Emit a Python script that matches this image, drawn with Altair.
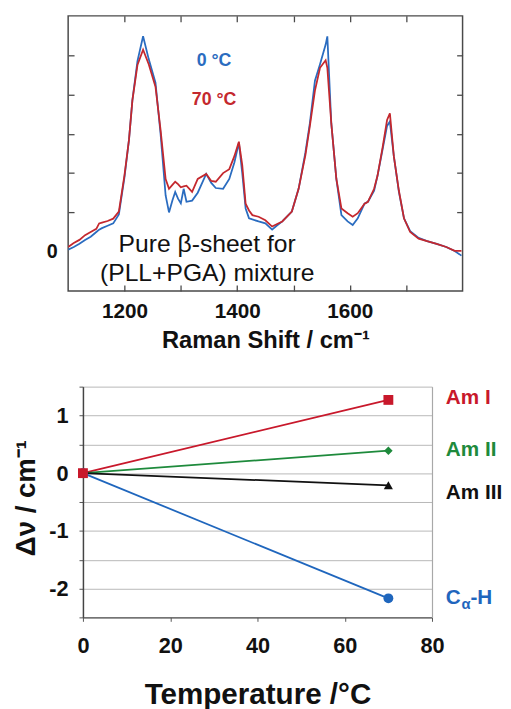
import altair as alt
import pandas as pd

# ---------------- data ----------------
shift = [1100, 1110, 1120, 1130, 1140, 1150, 1155, 1160, 1170, 1180,
         1190, 1200, 1208, 1214, 1223, 1233, 1243, 1255, 1264, 1273,
         1279, 1285, 1290, 1295, 1300, 1305, 1310, 1320, 1330, 1345,
         1354, 1362, 1375, 1386, 1395, 1403, 1409, 1415, 1421, 1427,
         1438, 1450, 1462, 1470, 1480, 1497, 1509, 1521, 1529, 1538,
         1547, 1557, 1560, 1567, 1576, 1585, 1596, 1605, 1614, 1626,
         1632, 1643, 1649, 1658, 1666, 1671, 1678, 1687, 1696, 1707,
         1722, 1737, 1754, 1771, 1786, 1798]
int_0C = [0.05, 0.12, 0.2, 0.3, 0.38, 0.5, 0.56, 0.6, 0.66, 0.72,
          0.95, 1.9, 2.85, 3.85, 4.85, 5.48, 4.9, 4.3, 3.0, 1.43,
          1.0, 1.3, 1.52, 1.35, 1.23, 1.6, 1.27, 1.3, 1.5, 1.98,
          1.75, 1.62, 1.6, 1.85, 2.27, 2.77, 2.0, 1.1, 0.85, 0.82,
          0.77, 0.72, 0.56, 0.66, 0.77, 1.02, 1.6, 2.52, 3.27, 4.35,
          4.77, 5.27, 5.48, 3.27, 1.85, 0.93, 0.77, 0.68, 0.85, 1.22,
          1.27, 1.55, 1.93, 2.6, 3.2, 3.31, 2.43, 1.52, 0.85, 0.52,
          0.35, 0.27, 0.2, 0.12, 0.02, -0.1]
int_70C = [0.12, 0.22, 0.3, 0.42, 0.5, 0.58, 0.72, 0.74, 0.78, 0.84,
           1.02, 1.95, 2.85, 3.85, 4.75, 5.14, 4.77, 4.2, 3.1, 1.85,
           1.6, 1.7, 1.78, 1.72, 1.64, 1.66, 1.68, 1.52, 1.85, 1.98,
           1.8, 1.78, 2.0, 2.1, 2.43, 2.8, 2.2, 1.22, 1.05, 0.93,
           0.89, 0.8, 0.64, 0.7, 0.77, 1.02, 1.6, 2.45, 3.2, 4.1,
           4.68, 4.87, 4.68, 3.27, 1.85, 1.1, 0.98, 0.89, 0.98, 1.22,
           1.27, 1.6, 1.93, 2.65, 3.35, 3.52, 2.43, 1.55, 0.85, 0.5,
           0.33, 0.27, 0.2, 0.12, 0.02, 0.02]
spec_labels = ["0 °C", "70 °C"]
note_lines = ["Pure β-sheet for", "(PLL+PGA) mixture"]

x_label_ticks = [1200, 1400, 1600]
x_minor_ticks = [1200, 1300, 1400, 1500, 1600, 1700]
y_top_labels = [0]
y_top_ticks = [1, 2, 3, 4, 5]

temps = [0, 70]
bands = ["Am I", "Am II", "Am III", "Cα-H"]
shift_70 = [1.27, 0.39, -0.21, -2.17]
shift_0 = [0.0, 0.0, 0.0, 0.0]
temp_ticks = [0, 20, 40, 60, 80]
dnu_labels = [-2, -1, 0, 1]
dnu_grid = [-2.5, -2, -1.5, -1, -0.5, 0, 0.5, 1, 1.5]
y_title_bottom = "Δν / cm⁻¹"

# ---------------- style ----------------
FONT = "Liberation Sans"
BLUE = "#2a6cc0"
RED = "#c4282e"
band_colors = ["#c8182b", "#1e8a3c", "#111111", "#1f66bd"]
band_shapes = ["square", "diamond", "triangle-up", "circle"]
band_sizes = [100, 75, 85, 100]
label_dy = [-2, -1, 8, 0]
FRAME = "#4a4a4a"
INSET = 15          # bottom plot starts 15 px right of the top plot
BW = 354            # bottom plot width

# ---------------- top panel ----------------
xs = alt.Scale(domain=[1100, 1800], nice=False, zero=False)
ys = alt.Scale(domain=[-1, 6], nice=False, zero=False)

df0 = pd.DataFrame({"shift": shift, "I": int_0C})
df70 = pd.DataFrame({"shift": shift, "I": int_70C})

tick_only = dict(labels=False, domain=False, ticks=True, tickSize=6,
                 tickColor=FRAME, tickWidth=1.3, grid=False, title=None,
                 offset=-6)

line0 = alt.Chart(df0).mark_line(color=BLUE, strokeWidth=1.8, clip=True).encode(
    x=alt.X("shift:Q", scale=xs, axis=alt.Axis(
        orient="bottom", values=x_label_ticks, format="d", ticks=False, domain=False,
        grid=False, labelFont=FONT, labelFontWeight="bold", labelFontSize=21,
        labelColor="#111", labelPadding=10, labelFlush=False,
        title="Raman Shift / cm⁻¹", titleFont=FONT, titleFontSize=24,
        titleFontWeight="bold", titleColor="#111", titlePadding=7)),
    y=alt.Y("I:Q", scale=ys, axis=alt.Axis(
        orient="left", values=y_top_labels, format="d", ticks=False, domain=False,
        grid=False, labelFont=FONT, labelFontWeight="bold", labelFontSize=20,
        labelColor="#111", labelPadding=11, title=None)),
)
ghost = alt.Chart(df0).mark_line(opacity=0).encode(
    x=alt.X("shift:Q", scale=xs, axis=alt.Axis(orient="bottom", values=x_minor_ticks, **tick_only)),
    y=alt.Y("I:Q", scale=ys, axis=alt.Axis(orient="left", values=y_top_ticks, **tick_only)),
)
line70 = alt.Chart(df70).mark_line(color=RED, strokeWidth=1.8, clip=True).encode(
    x=alt.X("shift:Q", scale=xs, axis=alt.Axis(orient="top", values=x_minor_ticks, **tick_only)),
    y=alt.Y("I:Q", scale=ys, axis=alt.Axis(orient="right", values=y_top_ticks, **tick_only)),
)

lab_df = pd.DataFrame({"t": spec_labels})
lab0 = alt.Chart(lab_df).transform_filter(alt.datum.t == spec_labels[0]).mark_text(
    font=FONT, fontSize=18, fontWeight="bold", color=BLUE, align="center", baseline="middle"
).encode(text="t:N", x=alt.value(148), y=alt.value(46))
lab70 = alt.Chart(lab_df).transform_filter(alt.datum.t == spec_labels[1]).mark_text(
    font=FONT, fontSize=18, fontWeight="bold", color=RED, align="center", baseline="middle"
).encode(text="t:N", x=alt.value(148), y=alt.value(85))
note = alt.Chart(lab_df).transform_filter(alt.datum.t == spec_labels[0]).mark_text(
    text=note_lines, lineHeight=30, font=FONT, fontSize=25, color="#111",
    align="center", baseline="alphabetic"
).encode(x=alt.value(141), y=alt.value(239))

top = alt.layer(line0, ghost, line70, lab0, lab70, note).resolve_axis(
    x="independent", y="independent"
).properties(width=400, height=279,
             view=alt.ViewBackground(stroke=FRAME, strokeWidth=1.5))

# ---------------- bottom panel ----------------
rows = []
for b, v0, v70 in zip(bands, shift_0, shift_70):
    rows.append({"band": b, "T": temps[0], "dnu": v0})
    rows.append({"band": b, "T": temps[1], "dnu": v70})
dfb = pd.DataFrame(rows)

tx = alt.Scale(domain=[0, 80], nice=False, zero=False, range=[INSET, INSET + BW])
ty = alt.Scale(domain=[-2.5, 1.5], nice=False, zero=False)
cscale = alt.Scale(domain=bands, range=band_colors)

grid_layer = alt.Chart(dfb).mark_line(opacity=0).encode(
    x=alt.X("T:Q", scale=tx, axis=alt.Axis(
        orient="bottom", values=temp_ticks, tickSize=4, tickColor="#555",
        domainColor="#555", domainWidth=1.5, grid=False, labels=False, title=None)),
    y=alt.Y("dnu:Q", scale=ty, axis=alt.Axis(
        orient="left", offset=-INSET, values=dnu_grid, tickSize=4, tickColor="#555",
        domainColor="#444", domainWidth=1.5, grid=True, gridColor="#b8b8b8",
        gridWidth=1, labels=False, title=None)),
    detail="band:N",
)
frame_right = alt.Chart(dfb).mark_line(opacity=0).encode(
    x=alt.X("T:Q", scale=tx, axis=None),
    y=alt.Y("dnu:Q", scale=ty, axis=alt.Axis(
        orient="right", values=dnu_grid, ticks=False, labels=False, grid=False,
        domainColor="#a8a8a8", domainWidth=1.2, title=None)),
    detail="band:N",
)

lines = alt.Chart(dfb).mark_line(strokeWidth=1.8).encode(
    x=alt.X("T:Q", scale=tx, axis=alt.Axis(
        orient="bottom", values=temp_ticks, format="d", ticks=False, domain=False,
        grid=False, labelFont=FONT, labelFontWeight="bold",
        labelFontSize=22, labelColor="#111", labelPadding=19, labelFlush=False,
        title="Temperature /°C", titleFont=FONT, titleFontSize=30,
        titleFontWeight="bold", titleColor="#111", titlePadding=23)),
    y=alt.Y("dnu:Q", scale=ty, axis=alt.Axis(
        orient="left", offset=-INSET, values=dnu_labels, format="d", ticks=False,
        domain=False, grid=False, labelExpr="replace(datum.label, '\u2212', '-')",
        labelFont=FONT, labelFontWeight="bold", labelFontSize=22,
        labelColor="#111", labelPadding=15, title=None)),
    color=alt.Color("band:N", scale=cscale, legend=None),
    detail="band:N",
)

ytitle = alt.Chart(pd.DataFrame({"t": [y_title_bottom]})).mark_text(
    font=FONT, fontSize=28, fontWeight="bold", color="#111", angle=270,
    align="center", baseline="alphabetic"
).encode(text="t:N", x=alt.value(-34), y=alt.value(113))

layers = [grid_layer, frame_right, lines, ytitle]
for i in reversed(range(len(bands))):
    sub = dfb[dfb["band"] == bands[i]]
    layers.append(alt.Chart(sub).mark_point(
        shape=band_shapes[i], size=band_sizes[i], filled=True, opacity=1,
        color=band_colors[i]
    ).encode(x=alt.X("T:Q", scale=tx, axis=None), y=alt.Y("dnu:Q", scale=ty, axis=None)))

end = dfb[dfb["T"] == temps[1]]
LX = INSET + 368
for i in range(3):
    sub = end[end["band"] == bands[i]]
    layers.append(alt.Chart(sub).mark_text(
        font=FONT, fontSize=21, fontWeight="bold", color=band_colors[i],
        align="left", baseline="middle", dy=label_dy[i]
    ).encode(text="band:N", x=alt.value(LX), y=alt.Y("dnu:Q", scale=ty, axis=None)))

sub = end[end["band"] == bands[3]]
for txt, xv, fs, dyv in [("C", LX, 21, 0), ("α", LX + 16, 15, 6), ("-H", LX + 25, 21, 0)]:
    layers.append(alt.Chart(sub).mark_text(
        text=txt, font=FONT, fontSize=fs, fontWeight="bold", color=band_colors[3],
        align="left", baseline="middle", dy=dyv
    ).encode(x=alt.value(xv), y=alt.Y("dnu:Q", scale=ty, axis=None)))

bottom = alt.layer(*layers).resolve_axis(x="independent", y="independent").properties(
    width=INSET + BW, height=234,
    view=alt.ViewBackground(stroke="transparent", strokeWidth=0))

chart = alt.vconcat(top, bottom, spacing=33).properties(
    padding={"left": 5, "top": 1, "right": 0, "bottom": 0}
).configure(font=FONT)

chart.save("out.html", embed_options={"renderer": "svg", "actions": False})
